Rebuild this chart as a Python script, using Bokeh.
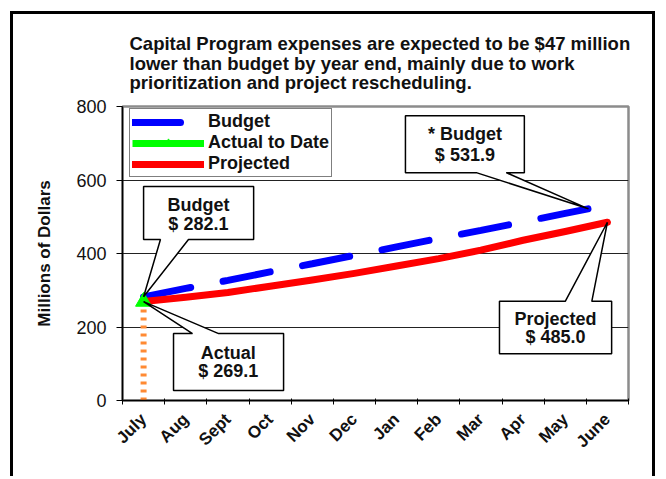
import math
from bokeh.plotting import figure
from bokeh.models import (Range1d, FixedTicker, Legend, LegendItem, Title)
from bokeh.embed import file_html
from bokeh.resources import INLINE
from bokeh.core.properties import value

# ---------------- data ----------------
months = ["July", "Aug", "Sept", "Oct", "Nov", "Dec", "Jan", "Feb", "Mar", "Apr", "May", "June"]
budget = [282.1, 305, 327, 350, 372, 395, 418, 441, 463, 486, 509, 531.9]
projected = [269.1, 281, 294, 311, 328, 346, 366, 386, 409, 436, 460, 485.0]
actual = [269.1]
y_ticks = [0, 200, 400, 600, 800]
title_lines = [
    "Capital Program expenses are expected to be $47 million",
    "lower than budget by year end, mainly due to work",
    "prioritization and project rescheduling.",
]

xs = [i + 0.5 for i in range(len(months))]
FONT = "Liberation Sans"
INK = "#111111"

p = figure(width=645, height=465, x_range=Range1d(0, 12), y_range=Range1d(0, 800),
           output_backend="svg", toolbar_location=None, title=None,
           min_border_left=109, min_border_right=30, min_border_top=92, min_border_bottom=79)
p.styles = {"margin": "11px 0px 0px 10px", "border-left": "3px solid black",
            "border-top": "3px solid black", "border-right": "3px solid black"}
p.background_fill_color = "white"
p.border_fill_color = "white"
p.outline_line_color = "#8c8c8c"
p.outline_line_width = 2.5

# grid
p.xgrid.visible = False
p.ygrid.ticker = FixedTicker(ticks=y_ticks[1:-1])
p.ygrid.grid_line_color = "#222222"
p.ygrid.grid_line_width = 1

# y axis
p.yaxis.ticker = FixedTicker(ticks=y_ticks)
p.yaxis.major_tick_out = 6
p.yaxis.major_tick_in = 0
p.yaxis.minor_tick_line_color = None
p.yaxis.axis_line_width = 1.5
p.yaxis.major_label_text_font = FONT
p.yaxis.major_label_text_font_size = "18px"
p.yaxis.major_label_text_color = INK
p.yaxis.major_label_standoff = 10
p.yaxis.axis_label = "Millions of Dollars"
p.yaxis.axis_label_text_font = FONT
p.yaxis.axis_label_text_font_size = "17px"
p.yaxis.axis_label_text_font_style = "bold"
p.yaxis.axis_label_text_color = INK
p.yaxis.axis_label_standoff = 19

# x axis
p.xaxis.ticker = FixedTicker(ticks=xs, minor_ticks=list(range(13)))
p.xaxis.major_label_overrides = {x: m for x, m in zip(xs, months)}
p.xaxis.major_tick_line_color = None
p.xaxis.minor_tick_in = 2
p.xaxis.minor_tick_out = 4
p.xaxis.minor_tick_line_color = "black"
p.xaxis.axis_line_width = 1.5
p.xaxis.major_label_orientation = math.pi / 4
p.xaxis.major_label_text_font = FONT
p.xaxis.major_label_text_font_size = "17px"
p.xaxis.major_label_text_font_style = "bold"
p.xaxis.major_label_text_color = INK
p.xaxis.major_label_standoff = 10

# title paragraph
p.add_layout(Title(text="\n".join(title_lines), align="left", offset=7, standoff=27,
                   text_font=FONT, text_font_size="18.5px", text_font_style="bold",
                   text_color=INK, text_line_height=0.92), "above")

# series
p.line([xs[0], xs[0]], [0, actual[0]], line_color="#ff8a33", line_width=6, line_dash="3 5")
r_budget = p.line(xs, budget, line_color="#0000ff", line_width=7, line_dash="48 33", line_cap="round")
r_proj = p.line(xs, projected, line_color="#ff0000", line_width=7, line_cap="round", line_join="round")
r_act_line = p.line(xs[:1], actual, line_color="#00ff00", line_width=7)
r_act_tri = p.scatter(xs[:1], actual, marker="triangle", size=16, fill_color="#00ff00", line_color="#00ff00")

# the budget callout points at the visible end of the dashed line
b_tip_x = xs[-1] - 0.45
b_tip_y = budget[-2] + (budget[-1] - budget[-2]) * 0.55

# callouts: (lines, box left, right, top, bottom, edge, base x0, x1, tip x, tip y, text x, text ys)
callouts = [
    (["Budget", "$ 282.1"], 0.50, 3.11, 582, 438, "bottom", 0.90, 1.565, xs[0], budget[0], 1.80, [531, 479]),
    (["Actual", "$ 269.1"], 1.21, 3.82, 182, 27, "top", 1.66, 2.28, xs[0], actual[0], 2.51, [128, 79]),
    (["* Budget", "$ 531.9"], 6.71, 9.53, 775, 620, "bottom", 8.39, 9.10, b_tip_x, b_tip_y, 8.12, [724, 668]),
    (["Projected", "$ 485.0"], 8.94, 11.60, 270, 127, "top", 10.50, 11.13, xs[-1], projected[-1], 10.27, [223, 173]),
]
for lines, l, r, t, b, edge, bx0, bx1, tx, ty, cx, cys in callouts:
    if edge == "bottom":
        px = [l, r, r, bx1, tx, bx0, l]
        py = [t, t, b, b, ty, b, b]
    else:
        px = [l, bx0, tx, bx1, r, r, l]
        py = [t, t, ty, t, t, b, b]
    p.patch(px, py, fill_color="white", line_color="black", line_width=1.5)
    p.text([cx] * len(lines), cys, text=lines, text_align="center", text_baseline="middle",
           text_font=value(FONT), text_font_size="18px", text_font_style="bold", text_color=INK)

legend = Legend(items=[
    LegendItem(label="Budget", renderers=[r_budget]),
    LegendItem(label="Actual to Date", renderers=[r_act_line, r_act_tri]),
    LegendItem(label="Projected", renderers=[r_proj]),
], location=(7, 223), padding=2, spacing=0, glyph_width=72, glyph_height=20,
    label_height=20, label_standoff=4, label_text_font=FONT, label_text_font_size="18px",
    label_text_font_style="bold", label_text_color=INK,
    border_line_color="black", border_line_width=1.5, background_fill_alpha=1.0)
p.add_layout(legend)

open("out.html", "w").write(file_html(p, INLINE))
